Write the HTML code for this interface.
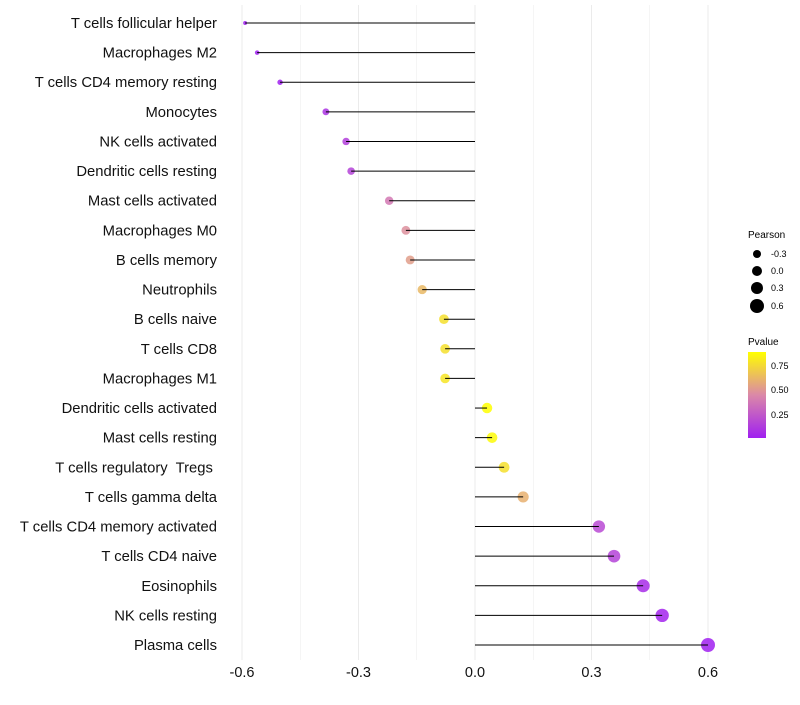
<!DOCTYPE html>
<html><head><meta charset="utf-8"><style>
body{margin:0;background:#fff;font-family:"Liberation Sans",sans-serif;}
</style></head><body>
<svg id="chart" width="800" height="700" xmlns="http://www.w3.org/2000/svg" font-family="Liberation Sans, sans-serif">
<defs><linearGradient id="pg" x1="0" y1="1" x2="0" y2="0">
<stop offset="0" stop-color="#A020F0"/><stop offset="0.5" stop-color="#DB88A8"/><stop offset="1" stop-color="#FFFF00"/></linearGradient></defs>
<g id="grid"></g><g id="dots"></g><g id="marks"></g><g id="labels"></g>
<g font-size="9">
<text x="748" y="238" font-size="10">Pearson</text>
<circle cx="757" cy="254" r="4" fill="#000"/><text x="771" y="257">-0.3</text>
<circle cx="757" cy="271" r="5" fill="#000"/><text x="771" y="274">0.0</text>
<circle cx="757" cy="288" r="6" fill="#000"/><text x="771" y="291">0.3</text>
<circle cx="757" cy="306" r="7" fill="#000"/><text x="771" y="309">0.6</text>
</g>
<g font-size="9">
<text x="748" y="345" font-size="10">Pvalue</text>
<rect x="748" y="352" width="18" height="86" fill="url(#pg)"/>
<text x="771" y="369">0.75</text><text x="771" y="393">0.50</text><text x="771" y="418">0.25</text>
</g>
</svg>
<script>
const categories=["T cells follicular helper","Macrophages M2","T cells CD4 memory resting","Monocytes","NK cells activated","Dendritic cells resting","Mast cells activated","Macrophages M0","B cells memory","Neutrophils","B cells naive","T cells CD8","Macrophages M1","Dendritic cells activated","Mast cells resting","T cells regulatory  Tregs ","T cells gamma delta","T cells CD4 memory activated","T cells CD4 naive","Eosinophils","NK cells resting","Plasma cells"];
const pearson=[-0.592,-0.561,-0.502,-0.384,-0.332,-0.319,-0.221,-0.178,-0.167,-0.136,-0.080,-0.077,-0.077,0.031,0.044,0.075,0.124,0.319,0.358,0.433,0.482,0.600];
const pvalue=[0.01,0.01,0.02,0.10,0.15,0.17,0.40,0.50,0.55,0.65,0.80,0.80,0.82,0.92,0.90,0.80,0.62,0.20,0.17,0.07,0.04,0.005];
const xTicks=[-0.6,-0.3,0,0.3,0.6];
const xTickLabels=["-0.6","-0.3","0.0","0.3","0.6"];
const NS="http://www.w3.org/2000/svg";
const xs=v=>475+v*388.33;
const ys=i=>23+i*(645-23)/(categories.length-1);
const rs=v=>Math.sqrt(Math.max(2.5,26.3+37.8*v));
function lerp(a,b,t){return a.map((x,k)=>Math.round(x+(b[k]-x)*t));}
function col(p){const c0=[160,32,240],c1=[219,136,168],c2=[255,255,0];let t=Math.min(1,Math.max(0,(p-0.02)/0.9));
 const c=t<0.5?lerp(c0,c1,t*2):lerp(c1,c2,(t-0.5)*2);return `rgb(${c[0]},${c[1]},${c[2]})`;}
function mk(tag,attrs,parent){const e=document.createElementNS(NS,tag);for(const k in attrs)e.setAttribute(k,attrs[k]);document.getElementById(parent).appendChild(e);return e;}
for(let v=-0.6;v<=0.66;v+=0.15){const g=mk('line',{x1:xs(v),x2:xs(v),y1:5,y2:660,stroke:'#ebebeb','stroke-width':Math.abs(Math.round(v/0.3)*0.3-v)<1e-6?1:0.5},'grid');

}
xTicks.forEach((v,i)=>{const t=mk('text',{x:xs(v),y:677,'text-anchor':'middle','font-size':14.5,fill:'#111'},'labels');t.textContent=xTickLabels[i];

});
categories.forEach((c,i)=>{const y=ys(i);
const t=mk('text',{x:217,y:y+5,'text-anchor':'end','font-size':14.8,fill:'#111',style:'white-space:pre'},'labels');t.textContent=c;


const d=mk('circle',{cx:xs(pearson[i]),cy:y,r:rs(pearson[i]),fill:col(pvalue[i]),'fill-opacity':0.85},'dots');


const l=mk('line',{x1:xs(0),x2:xs(pearson[i]),y1:y,y2:y,stroke:'#000','stroke-width':1},'marks');

});
</script>
</body></html>
